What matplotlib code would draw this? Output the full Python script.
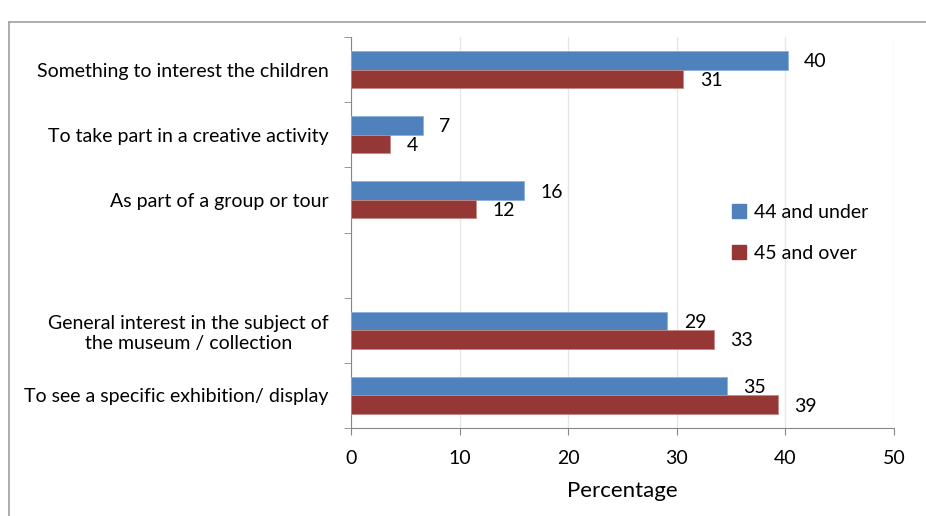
import matplotlib.pyplot as plt
from matplotlib.lines import Line2D

# data
categories = [
    "Something to interest the children",
    "To take part in a creative activity",
    "As part of a group or tour",
    "",
    "General interest in the subject of\nthe museum / collection",
    "To see a specific exhibition/ display",
]
under_44 = [40.2, 6.6, 15.9, None, 29.1, 34.6]
over_45 = [30.6, 3.6, 11.5, None, 33.4, 39.3]
series_names = ["44 and under", "45 and over"]
x_ticks = [0, 10, 20, 30, 40, 50]

blue = "#4F81BD"
red = "#953735"

plt.rcParams["font.family"] = ["Lato", "DejaVu Sans"]

fig = plt.figure(figsize=(9.26, 5.16), dpi=100)
ax = fig.add_axes([0.379, 0.1705, 0.5865, 0.7578])

bar_h = 0.285
for i, (a, b) in enumerate(zip(under_44, over_45)):
    if a is not None:
        ax.barh(i - bar_h / 2, a, height=bar_h, color=blue, edgecolor="#8db0dc", linewidth=0.6, zorder=3)
        ax.annotate(f"{a:.0f}", (a, i - bar_h / 2), xytext=(12, -1), textcoords="offset points",
                    va="center", ha="left", fontsize=14)
    if b is not None:
        ax.barh(i + bar_h / 2, b, height=bar_h, color=red, edgecolor="#c28a89", linewidth=0.6, zorder=3)
        ax.annotate(f"{b:.0f}", (b, i + bar_h / 2), xytext=(12, -1), textcoords="offset points",
                    va="center", ha="left", fontsize=14)

ax.set_xlim(0, 50)
ax.set_ylim(5.5, -0.5)
ax.set_xticks(x_ticks)
ax.set_yticks(range(len(categories)))
ax.set_yticklabels(categories, fontsize=14, multialignment="center")
ax.set_yticks([k - 0.5 for k in range(len(categories) + 1)], minor=True)
ax.tick_params(axis="y", which="major", length=0, pad=16)
ax.tick_params(axis="y", which="minor", length=5, color="#868686", direction="out")
ax.tick_params(axis="x", length=5, color="#868686", direction="out", labelsize=14, pad=11)
ax.grid(axis="x", color="#e6e6e6", linewidth=1, zorder=0)
ax.set_axisbelow(True)
for s in ["top", "right"]:
    ax.spines[s].set_visible(False)
for s in ["left", "bottom"]:
    ax.spines[s].set_color("#868686")
ax.set_xlabel("Percentage", fontsize=16, labelpad=10)

handles = [
    Line2D([], [], marker="s", linestyle="", markersize=10, color=blue),
    Line2D([], [], marker="s", linestyle="", markersize=10, color=red),
]
fig.legend(handles, series_names, loc="upper left", bbox_to_anchor=(0.781, 0.62),
           frameon=False, fontsize=14, labelspacing=1.22, handlelength=0.8,
           handletextpad=0.4, borderaxespad=0)

# outer chart border
fig.add_artist(Line2D([9 / 926, 9 / 926], [0, 1 - 22 / 516], color="#a0a0a0", linewidth=1.2))
fig.add_artist(Line2D([9 / 926, 1], [1 - 22 / 516, 1 - 22 / 516], color="#a0a0a0", linewidth=1.2))

fig.savefig("out.png", dpi=100)
